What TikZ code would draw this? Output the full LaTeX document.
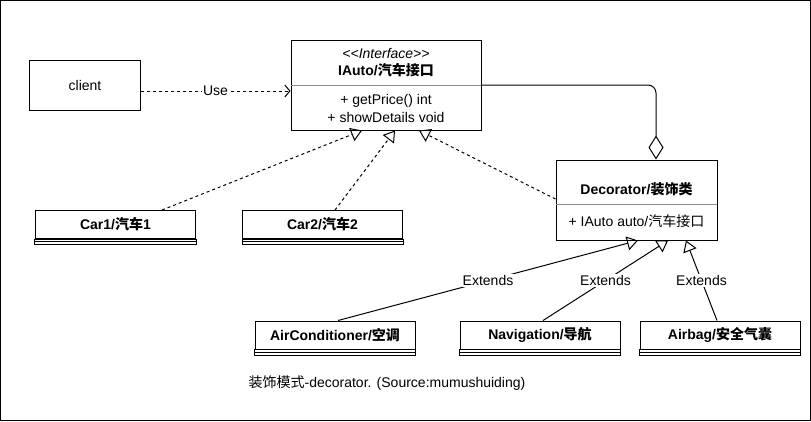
\documentclass[tikz,border=0pt]{standalone}
\usepackage{fontspec}
\setmainfont{Liberation Sans}
\newfontfamily\cjk{Noto Sans CJK SC}
\newcommand\zh[1]{{\cjk #1}}
\usetikzlibrary{arrows.meta}
\tikzset{
  base/.style={line width=1bp, draw=black},
  boxnode/.style={base, rectangle, inner sep=0pt, anchor=center},
  txt/.style={inner sep=0pt, anchor=center, font=\fontsize{14bp}{16bp}\selectfont},
  btxt/.style={txt, font=\fontsize{14bp}{16bp}\selectfont\bfseries},
  divider/.style={line width=1bp, draw=black!45},
  realize/.style={base, dash pattern=on 3bp off 3bp, -{Triangle[open, length=11bp, width=14bp]}},
  extends/.style={base, -{Triangle[open, length=11bp, width=14bp]}},
  uses/.style={base, dash pattern=on 3bp off 3bp, -{Straight Barb[length=5bp, width=12bp]}},
  aggr/.style={base, rounded corners=8bp, -{Diamond[open, length=24bp, width=15bp]}},
  lbl/.style={txt, fill=white, inner sep=1bp},
}
\begin{document}
\begin{tikzpicture}[x=1bp, y=-1bp]
\useasboundingbox (0,0) rectangle (811,421);
\draw[line width=1bp] (0.5,0.5) rectangle (810.5,420.5);

% client
\node[boxnode, minimum width=110bp, minimum height=50bp] (client) at (85,85) {};
\node[txt] (clienttxt) at (client) {client};

% IAuto interface
\node[boxnode, minimum width=190bp, minimum height=90bp] (iauto) at (386,85) {};
\draw[divider] ([xshift=0.5bp]iauto.west) -- ([xshift=-0.5bp]iauto.east);
\node[txt, font=\fontsize{14bp}{16bp}\selectfont\itshape] (iface) at (386,53) {<\kern0pt<Interface>\kern0pt>};
\node[btxt] (iautot) at (386,70) {IAuto/\zh{汽车接口}};
\node[txt] (m1) at (386,101) {+ getPrice() int};
\node[txt] (m2) at (386,117) {+ showDetails void};

% Decorator
\node[boxnode, minimum width=161bp, minimum height=80bp] (deco) at (636.5,200) {};
\draw[divider] ([xshift=0.5bp]deco.west |- 0,204) -- ([xshift=-0.5bp]deco.east |- 0,204);
\node[btxt] (decot) at (636.5,189) {Decorator/\zh{装饰类}};
\node[txt] (decof) at (636.5,221) {+ IAuto auto/\zh{汽车接口}};

% concrete classes
\node[boxnode, minimum width=160bp, minimum height=28bp] (car1) at (115.5,224.5) {};
\node[btxt] (car1t) at (car1) {Car1/\zh{汽车}1};
\node[boxnode, minimum width=160bp, minimum height=28bp] (car2) at (322.5,224.5) {};
\node[btxt] (car2t) at (car2) {Car2/\zh{汽车}2};
\node[boxnode, minimum width=160bp, minimum height=28bp] (air) at (335,335) {};
\node[btxt] (airt) at (air) {AirConditioner/\zh{空调}};
\node[boxnode, minimum width=160bp, minimum height=28bp] (nav) at (540,335) {};
\node[btxt] (navt) at (nav) {Navigation/\zh{导航}};
\node[boxnode, minimum width=160bp, minimum height=28bp] (bag) at (720,335) {};
\node[btxt] (bagt) at (bag) {Airbag/\zh{安全气囊}};
\foreach \n in {car1,car2,air,nav,bag}{
  \draw[base] (\n.south west) rectangle ([yshift=-5.5bp]\n.south east);
  \draw[base] ([yshift=-2.5bp]\n.south west) -- ([yshift=-2.5bp]\n.south east);
}

% connectors
\draw[uses] ([yshift=-6bp]client.east) -- node[lbl] (uselbl) {Use} ([yshift=-6bp]iauto.west);
\draw[aggr] (iauto.east) -| ([xshift=19.5bp]deco.north);
\draw[realize] ([xshift=46.5bp]car1.north) -- ([xshift=-24bp]iauto.south);
\draw[realize] ([xshift=12.5bp]car2.north) -- ([xshift=9bp]iauto.south);
\draw[realize] ([yshift=1bp]deco.west) -- ([xshift=33bp]iauto.south);
\draw[extends] ([xshift=3bp]air.north) -- node[lbl] (e1) {Extends} ([xshift=1.5bp]deco.south);
\draw[extends] ([xshift=3bp]nav.north) -- node[lbl] (e2) {Extends} ([xshift=31.5bp]deco.south);
\draw[extends] ([xshift=-3bp]bag.north) -- node[lbl] (e3) {Extends} ([xshift=49.5bp]deco.south);

% caption
\node[txt] (cap) at (387,383) {\zh{装饰模式}-decorator. (Source:mumushuiding)};
\end{tikzpicture}
\end{document}
